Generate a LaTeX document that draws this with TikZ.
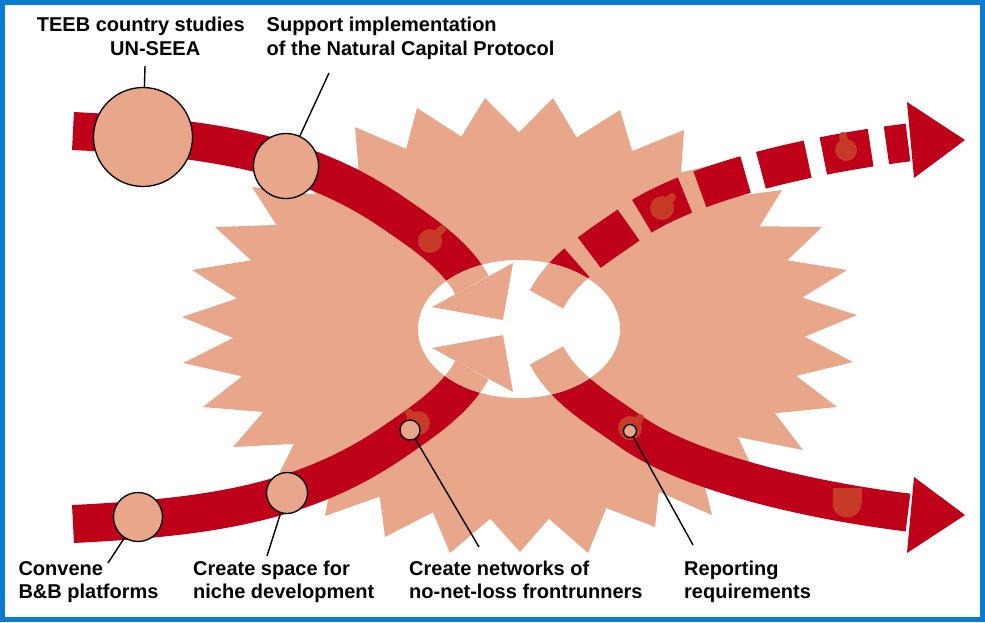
\documentclass[tikz,border=0pt]{standalone}
\usepackage{fontspec}
\setmainfont{Liberation Sans}
\usetikzlibrary{calc}
\definecolor{bandred}{RGB}{190,0,24}
\definecolor{salmon}{RGB}{232,166,139}
\definecolor{frameblue}{RGB}{10,124,206}
\definecolor{blobc}{RGB}{200,58,40}
\begin{document}
\begin{tikzpicture}[x=1pt,y=-1pt,
  bandline/.style={line width=38pt, draw=bandred},
  innerband/.style={line width=38pt, draw=salmon},
  dashedband/.style={dash pattern=on 48pt off 16pt},
  marker/.style={circle, draw=black, line width=1.3pt, fill=salmon, inner sep=0pt},
  leader/.style={draw=black, line width=1.4pt},
  lbl/.style={inner sep=0pt, anchor=base west, font=\fontsize{20}{23.5}\selectfont\bfseries},
  blobfill/.style={fill=blobc},
  knob/.style={draw=blobc, line width=8pt, line cap=round}]
\useasboundingbox (0,0) rectangle (985,622);
\fill[white] (0,0) rectangle (985,622);
% starburst
\coordinate (sc) at (520,327);
\foreach \i/\x/\y in {1/305/155, 2/355/127, 3/417/108, 4/485/98, 5/553/98, 6/620/110,
  7/684/130, 8/735/160, 9/782/190, 10/822/227, 11/847/270, 12/857/315, 13/853/362,
  14/837/407, 15/803/450, 16/750/463, 17/712/515, 18/655/527, 19/588/553, 20/520/552,
  21/450/553, 22/385/537, 23/325/516, 24/275/482, 25/233/447, 26/203/407, 27/183/363,
  28/182/317, 29/192/270, 30/215/227, 31/252/187}
  {\coordinate (t\i) at (\x,\y);}
\foreach \i [evaluate=\i as \p using {int(mod(\i+29,31)+1)}] in {1,...,31}
  {\coordinate (m\i) at ($(t\p)!0.5!(t\i)$);
   \coordinate (v\i) at ($(sc)!0.85!(m\i)$);}
\fill[salmon] (t1) foreach \i in {2,...,31} { -- (v\i) -- (t\i) } -- (v1) -- cycle;
% red bands
\draw[bandline] (73,131) .. controls (203,137.5) and (301,150) .. (392,212) .. controls (421,232) and (455,254) .. (472,285);
\draw[bandline] (73,524) .. controls (203,517.5) and (301,505) .. (392,443) .. controls (421,423) and (455,401) .. (472,370);
\draw[bandline] (546.5,355.5) .. controls (564,389) and (599,409) .. (630,431) .. controls (687,472) and (809,500.5) .. (908,512.5);
\draw[bandline, dashedband] (546.5,299.5) .. controls (564,266) and (599,246) .. (630,224) .. controls (687,183) and (809,154.5) .. (908,142.5);
\fill[bandred] (907,102) -- (965,140) -- (914,178) -- cycle;
\fill[bandred] (914,477) -- (965,515) -- (907,553) -- cycle;
% white centre
\fill[white] (519,329) ellipse [x radius=101, y radius=69];
\begin{scope}
\clip (519,329) ellipse [x radius=101, y radius=69];
\draw[innerband] (73,131) .. controls (203,137.5) and (301,150) .. (392,212) .. controls (421,232) and (455,254) .. (472,285);
\draw[innerband] (73,524) .. controls (203,517.5) and (301,505) .. (392,443) .. controls (421,423) and (455,401) .. (472,370);
\draw[innerband] (546.5,355.5) .. controls (564,389) and (599,409) .. (630,431) .. controls (687,472) and (809,500.5) .. (908,512.5);
\draw[innerband, dashedband] (546.5,299.5) .. controls (564,266) and (599,246) .. (630,224) .. controls (687,183) and (809,154.5) .. (908,142.5);
\end{scope}
\fill[salmon] (432,307) -- (503,320) -- (513,263) -- cycle;
\fill[salmon] (432,348) -- (503,335) -- (513,392) -- cycle;
% blobs
\draw[knob] (430,241) -- (442,229);
\fill[blobfill] (430,241) circle [radius=12];
\draw[knob] (662,208) -- (672,197);
\fill[blobfill] (662,208) circle [radius=12];
\draw[knob] (846,150) -- (843,136);
\fill[blobfill] (846,150) circle [radius=11];
\draw[knob] (418,423) -- (409,413);
\fill[blobfill] (418,423) circle [radius=12];
\draw[knob] (630,428) -- (640,418);
\fill[blobfill] (630,428) circle [radius=12];
\fill[blobfill] (833,488) rectangle (862,503);
\fill[blobfill] (847,503) circle [radius=14.5];
% frame
\draw[frameblue, line width=5pt] (2.5,2.5) rectangle (982.5,619.5);
% markers
\node[marker, minimum size=99pt] (c1) at (143,137) {};
\node[marker, minimum size=65pt] (c2) at (286,166) {};
\node[marker, minimum size=49pt] (c3) at (138,517) {};
\node[marker, minimum size=41pt] (c4) at (287,493) {};
\node[marker, minimum size=20pt] (c5) at (410,430) {};
\node[marker, minimum size=13pt] (c6) at (630,431) {};
% labels
\node[lbl] (teeb) at (36.7,31.7) {\begin{tabular}[t]{@{}l@{}}TEEB country studies\\\hspace*{73.3pt}UN-SEEA\end{tabular}};
\node[lbl] (ncp) at (266.5,31.7) {\begin{tabular}[t]{@{}l@{}}Support implementation\\of the Natural Capital Protocol\end{tabular}};
\node[lbl] (conv) at (18.3,575) {\begin{tabular}[t]{@{}l@{}}Convene\\B\&B platforms\end{tabular}};
\node[lbl] (niche) at (193,575) {\begin{tabular}[t]{@{}l@{}}Create space for\\niche development\end{tabular}};
\node[lbl] (nnl) at (409,575) {\begin{tabular}[t]{@{}l@{}}Create networks of\\no-net-loss frontrunners\end{tabular}};
\node[lbl] (rep) at (684,575) {\begin{tabular}[t]{@{}l@{}}Reporting\\requirements\end{tabular}};
% leader lines
\coordinate (l1) at (145,66);
\coordinate (l2) at (329,73);
\coordinate (l3) at (108,563);
\coordinate (l4) at (267,556);
\coordinate (l5) at (479,547);
\coordinate (l6) at (693,545);
\draw[leader] (l1) -- (c1);
\draw[leader] (l2) -- (c2);
\draw[leader] (l3) -- (c3);
\draw[leader] (l4) -- (c4);
\draw[leader] (l5) -- (c5);
\draw[leader] (l6) -- (c6);
\end{tikzpicture}
\end{document}
